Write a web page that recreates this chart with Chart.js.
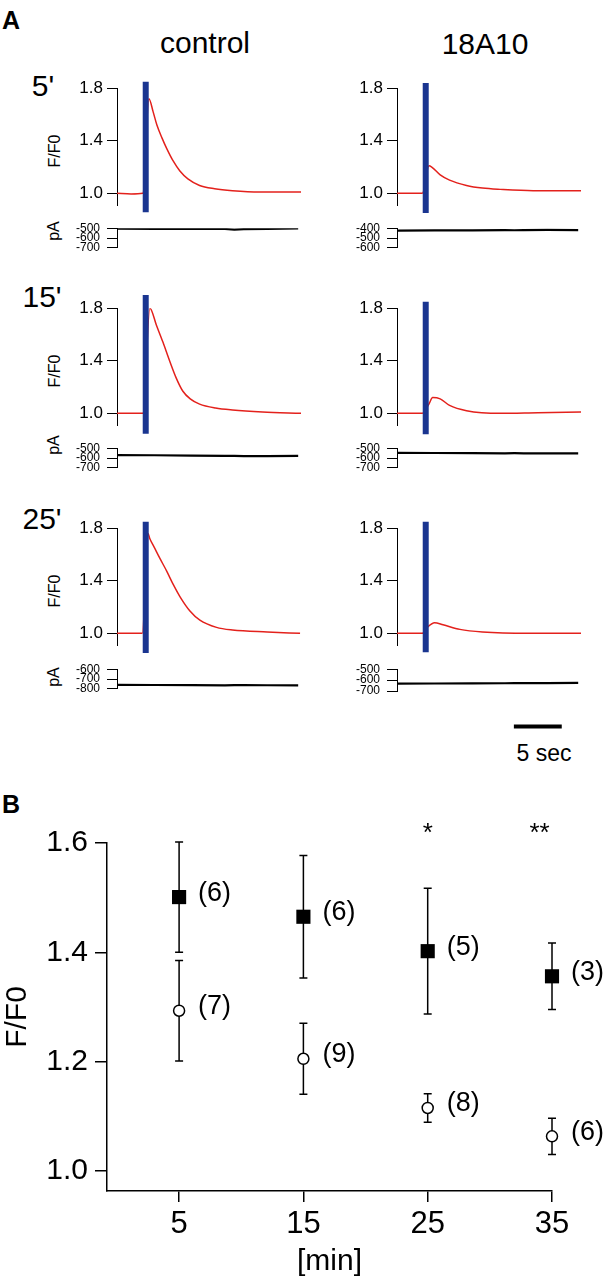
<!DOCTYPE html>
<html>
<head>
<meta charset="utf-8">
<title>F/F0 transients, control vs 18A10</title>
<script src="https://cdn.jsdelivr.net/npm/chart.js"></script>
<style>
    body { margin: 0; background: #fff; color: #000; font-family: 'Liberation Sans', Arial, sans-serif; }
    #page { position: relative; width: 603px; height: 1280px; overflow: hidden; }
    canvas { position: absolute; }
    .lbl { position: absolute; transform: translate(-50%, -50%); line-height: 1; white-space: nowrap; }
    .rot { transform: translate(-50%, -50%) rotate(-90deg); }
</style>
</head>
<body>
<div id="page">
    <div class="lbl" style="left:11px;top:20px;font-size:25px;font-weight:bold">A</div>
    <div class="lbl" style="left:205px;top:43px;font-size:30px">control</div>
    <div class="lbl" style="left:485px;top:44px;font-size:30px">18A10</div>
    <div class="lbl" style="left:43px;top:86px;font-size:30px">5'</div>
    <div class="lbl" style="left:42px;top:297px;font-size:30px">15'</div>
    <div class="lbl" style="left:42px;top:519px;font-size:30px">25'</div>
    <div class="lbl rot" style="left:55px;top:151px;font-size:16px">F/F0</div>
    <div class="lbl rot" style="left:55px;top:371px;font-size:16px">F/F0</div>
    <div class="lbl rot" style="left:55px;top:591px;font-size:16px">F/F0</div>
    <div class="lbl rot" style="left:54px;top:231px;font-size:16px">pA</div>
    <div class="lbl rot" style="left:54px;top:445px;font-size:16px">pA</div>
    <div class="lbl rot" style="left:54px;top:677px;font-size:16px">pA</div>
    <div class="lbl" style="left:544px;top:753px;font-size:23px">5 sec</div>
    <div class="lbl" style="left:11px;top:804px;font-size:25px;font-weight:bold">B</div>
</div>

<script>
    // ---- panel A: F/F0 traces (time in s) ----
    var ctl5T  = [0, 1.5, 2.75, 3.4, 3.85, 4.25, 4.8, 5.3, 5.95, 6.7, 7.55, 8.8, 10.4, 12.3, 15.2, 17.5, 19.6];
    var ctl5F  = [1.0, 0.995, 1.0, 1.72, 1.62, 1.52, 1.42, 1.34, 1.25, 1.17, 1.11, 1.06, 1.035, 1.02, 1.01, 1.01, 1.01];
    var ctl15T = [0, 1.5, 2.75, 3.5, 4.2, 4.9, 5.6, 6.3, 7.0, 7.8, 8.8, 10.5, 12.3, 15.5, 19.6];
    var ctl15F = [1.0, 1.0, 1.0, 1.80, 1.67, 1.54, 1.40, 1.27, 1.17, 1.11, 1.07, 1.04, 1.025, 1.01, 1.0];
    var ctl25T = [0, 1.5, 2.7, 3.3, 3.5, 4.0, 4.57, 5.32, 6.0, 6.7, 7.77, 8.83, 10.6, 12.3, 16.0, 19.5];
    var ctl25F = [1.0, 1.0, 1.0, 1.76, 1.72, 1.65, 1.57, 1.47, 1.37, 1.28, 1.17, 1.10, 1.045, 1.025, 1.01, 1.0];
    var ab5T   = [0, 1.5, 2.7, 3.4, 3.7, 4.6, 5.6, 7.4, 9.1, 11.0, 14.5, 19.6];
    var ab5F   = [1.0, 1.0, 1.0, 1.21, 1.20, 1.14, 1.10, 1.06, 1.04, 1.03, 1.02, 1.02];
    var ab15T  = [0, 1.5, 2.7, 3.4, 3.8, 4.6, 5.6, 7.4, 11.0, 15.0, 19.6];
    var ab15F  = [1.0, 1.0, 1.0, 1.07, 1.12, 1.11, 1.06, 1.02, 1.0, 1.005, 1.01];
    var ab25T  = [0, 1.5, 2.7, 3.3, 4.0, 4.9, 6.7, 9.1, 14.0, 19.6];
    var ab25F  = [1.0, 1.0, 1.0, 1.05, 1.08, 1.065, 1.03, 1.01, 1.0, 1.0];

    // stimulus bar (blue), time and F/F0 extent
    var stimT = 3.06;
    var stimLo = [0.855, 0.845, 0.85, 0.85, 0.84, 0.855];
    var stimHi = [1.85, 1.90, 1.85, 1.84, 1.85, 1.85];

    // holding current traces (pA)
    var pAT     = [0, 4, 8, 11.5, 12.5, 13.5, 16, 19.3];
    var ctl5pA  = [-505, -507, -506, -508, -515, -510, -506, -503];
    var ab5pA   = [-425, -423, -422, -420, -421, -419, -418, -420];
    var ctl15pA = [-570, -572, -575, -578, -579, -580, -580, -578];
    var ab15pA  = [-548, -549, -550, -552, -551, -552, -552, -552];
    var ctl25pA = [-760, -761, -762, -765, -763, -762, -764, -765];
    var ab25pA  = [-632, -631, -630, -629, -628, -628, -627, -625];

    var fTicks = [1.0, 1.4, 1.8];
    var pATicks = [[-500, -600, -700], [-400, -500, -600], [-500, -600, -700],
                   [-500, -600, -700], [-600, -700, -800], [-500, -600, -700]];

    var scaleBarT = [12.45, 17.55];
    var scaleBarY = -1025;

    // ---- panel B ----
    var minutes = [5, 15, 25, 35];
    var ctlMean = [1.501, 1.465, 1.402, 1.356];
    var ctlErr  = [0.101, 0.112, 0.115, 0.061];
    var ctlN    = ['(6)', '(6)', '(5)', '(3)'];
    var abMean  = [1.293, 1.205, 1.115, 1.063];
    var abErr   = [0.092, 0.065, 0.026, 0.033];
    var abN     = ['(7)', '(9)', '(8)', '(6)'];
    var starX   = [25, 34];
    var stars   = ['*', '**'];

    var RED = '#e3211c';
    var BLUE = '#1a3590';
    var FONT = "'Liberation Sans', Arial, sans-serif";

    Chart.defaults.font.family = FONT;
    Chart.defaults.color = '#000';
    Chart.defaults.animation = false;

    function pts(xs, ys) {
        return xs.map(function(x, i) { return { x: x, y: ys[i] }; });
    }

    function addCanvas(left, top, w, h) {
        var c = document.createElement('canvas');
        c.width = w; c.height = h;
        c.style.left = left + 'px'; c.style.top = top + 'px';
        c.style.width = w + 'px'; c.style.height = h + 'px';
        document.getElementById('page').appendChild(c);
        return c;
    }

    // box = page px of the plot area; axis only on the left
    function tracePanel(box, yMin, yMax, ticks, fontSize, tickPad, fmt, datasets, padB) {
        var leftW = 60, padT = 12, padR = 10;
        padB = padB || 12;
        var cv = addCanvas(box.ax - leftW, box.top - padT, box.right - box.ax + leftW + padR,
                           box.bottom - box.top + padT + padB);
        return new Chart(cv, {
            type: 'line',
            data: { datasets: datasets },
            options: {
                responsive: false,
                animation: false,
                devicePixelRatio: 1,
                layout: { padding: { left: 0, top: padT, right: padR, bottom: padB } },
                plugins: { legend: { display: false }, tooltip: { enabled: false } },
                elements: { point: { radius: 0 }, line: { tension: 0 } },
                scales: {
                    x: { type: 'linear', display: false, min: 0, max: 19.6 },
                    y: {
                        min: yMin, max: yMax,
                        afterFit: function(s) { s.width = leftW; },
                        afterBuildTicks: function(s) { s.ticks = ticks.map(function(v) { return { value: v }; }); },
                        ticks: { font: { size: fontSize }, padding: tickPad, callback: fmt, autoSkip: false },
                        grid: { drawOnChartArea: false, tickLength: 10, color: '#000', lineWidth: 1 },
                        border: { color: '#000', width: 1 }
                    }
                }
            }
        });
    }

    var cols = [{ ax: 117, right: 301 }, { ax: 397, right: 581 }];
    var fRows = [{ top: 86, bottom: 208 }, { top: 306, bottom: 428 }, { top: 526, bottom: 648 }];
    var pRows = [{ top: 226, bottom: 250 }, { top: 446, bottom: 470 }, { top: 667, bottom: 691 }];

    var fTraces = [[ctl5T, ctl5F], [ctl15T, ctl15F], [ctl25T, ctl25F], [ab5T, ab5F], [ab15T, ab15F], [ab25T, ab25F]];
    var pTraces = [ctl5pA, ab5pA, ctl15pA, ab15pA, ctl25pA, ab25pA];

    var fmtF = function(v) { return Number(v).toFixed(1); };
    var fmtP = function(v) { return String(v); };

    for (var c = 0; c < 2; c++) {
        for (var r = 0; r < 3; r++) {
            var k = c * 3 + r;
            var fb = { ax: cols[c].ax, right: cols[c].right, top: fRows[r].top, bottom: fRows[r].bottom };
            tracePanel(fb, 0.905, 1.8, fTicks, 17, 4, fmtF, [
                { data: [{ x: stimT, y: stimLo[k] }, { x: stimT, y: stimHi[k] }],
                  borderColor: BLUE, borderWidth: 6, clip: false },
                { data: pts(fTraces[k][0], fTraces[k][1]), borderColor: RED, borderWidth: 1.5,
                  cubicInterpolationMode: 'monotone' }
            ]);

            var pIdx = r * 2 + c;   // pATicks listed row by row
            var pt = pATicks[pIdx];
            var pb = { ax: cols[c].ax, right: cols[c].right, top: pRows[r].top, bottom: pRows[r].bottom };
            var ds = [{ data: pts(pAT, pTraces[pIdx]), borderColor: '#000', borderWidth: 2.2 }];
            var extra = 12;
            if (c === 1 && r === 2) {
                // 5 sec scale bar
                ds.push({ data: [{ x: scaleBarT[0], y: scaleBarY }, { x: scaleBarT[1], y: scaleBarY }],
                          borderColor: '#000', borderWidth: 4, clip: false });
                extra = 50;
            }
            tracePanel(pb, pt[2], pt[0], pt, 12, 7, fmtP, ds, extra);
        }
    }

    // ---- panel B chart ----
    var panelB = {
        id: 'panelB',
        beforeDatasetsDraw: function(chart) {
            var ctx = chart.ctx, xs = chart.scales.x, ys = chart.scales.y;
            var groups = [[ctlMean, ctlErr], [abMean, abErr]];
            ctx.save();
            ctx.strokeStyle = '#000';
            ctx.lineWidth = 1.5;
            groups.forEach(function(g) {
                minutes.forEach(function(m, i) {
                    var x = xs.getPixelForValue(m);
                    var y1 = ys.getPixelForValue(g[0][i] + g[1][i]);
                    var y2 = ys.getPixelForValue(g[0][i] - g[1][i]);
                    ctx.beginPath();
                    ctx.moveTo(x, y1); ctx.lineTo(x, y2);
                    ctx.moveTo(x - 4, y1); ctx.lineTo(x + 4, y1);
                    ctx.moveTo(x - 4, y2); ctx.lineTo(x + 4, y2);
                    ctx.stroke();
                });
            });
            ctx.restore();
        },
        afterDatasetsDraw: function(chart) {
            var ctx = chart.ctx, xs = chart.scales.x, ys = chart.scales.y;
            ctx.save();
            ctx.fillStyle = '#000';
            ctx.font = '27px ' + FONT;
            ctx.textAlign = 'left';
            ctx.textBaseline = 'middle';
            minutes.forEach(function(m, i) {
                var x = xs.getPixelForValue(m) + 19;
                ctx.fillText(ctlN[i], x, ys.getPixelForValue(ctlMean[i]) - 4);
                ctx.fillText(abN[i], x, ys.getPixelForValue(abMean[i]) - 4);
            });
            ctx.font = '26px ' + FONT;
            ctx.textAlign = 'center';
            ctx.textBaseline = 'alphabetic';
            starX.forEach(function(sx, i) {
                ctx.fillText(stars[i], xs.getPixelForValue(sx), ys.top - 2);
            });
            ctx.restore();
        }
    };

    var cvB = addCanvas(0, 790, 603, 490);
    new Chart(cvB, {
        type: 'scatter',
        data: {
            datasets: [
                { data: pts(minutes, ctlMean), pointStyle: 'rect', pointRadius: 10, clip: false,
                  backgroundColor: '#000', borderColor: '#000', borderWidth: 0 },
                { data: pts(minutes, abMean), pointStyle: 'circle', pointRadius: 5.5, clip: false,
                  backgroundColor: '#fff', borderColor: '#000', borderWidth: 1.5 }
            ]
        },
        options: {
            responsive: false,
            animation: false,
            devicePixelRatio: 1,
            layout: { padding: { left: 0, top: 53, right: 51, bottom: 0 } },
            plugins: { legend: { display: false }, tooltip: { enabled: false } },
            elements: { point: { hoverRadius: 0 } },
            scales: {
                x: {
                    type: 'linear', min: -0.8, max: 35,
                    afterFit: function(s) { s.height = 89; },
                    afterBuildTicks: function(s) { s.ticks = minutes.map(function(v) { return { value: v }; }); },
                    ticks: { font: { size: 31 }, padding: 4, maxRotation: 0, autoSkip: false },
                    grid: { drawOnChartArea: false, tickLength: 11, color: '#000', lineWidth: 1.5 },
                    border: { color: '#000', width: 1.5 },
                    title: { display: true, text: '[min]', font: { size: 30 }, padding: 0 }
                },
                y: {
                    min: 0.963, max: 1.6,
                    afterFit: function(s) { s.width = 107; },
                    afterBuildTicks: function(s) { s.ticks = [1.0, 1.2, 1.4, 1.6].map(function(v) { return { value: v }; }); },
                    ticks: { font: { size: 30 }, padding: 7, callback: fmtF, autoSkip: false },
                    grid: { drawOnChartArea: false, tickLength: 12, color: '#000', lineWidth: 1.5 },
                    border: { color: '#000', width: 1.5 },
                    title: { display: true, text: 'F/F0', font: { size: 30 }, padding: 0 }
                }
            }
        },
        plugins: [panelB]
    });
</script>
</body>
</html>
